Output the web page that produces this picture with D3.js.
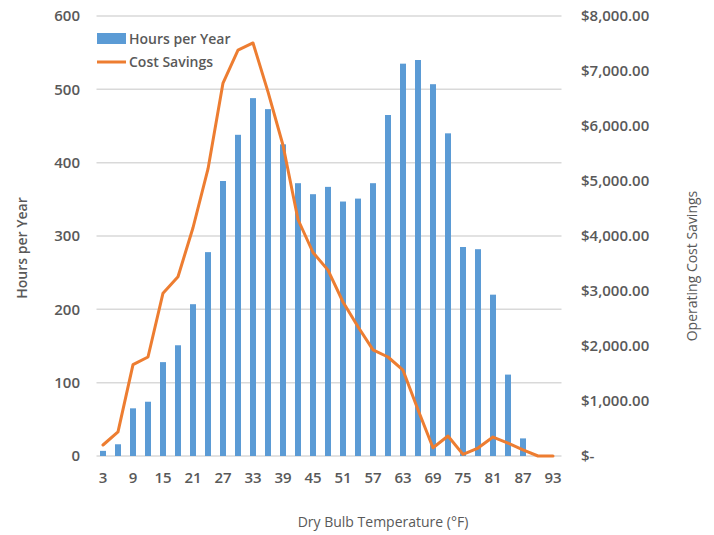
<!DOCTYPE html>
<html>
<head>
<meta charset="utf-8">
<script src="https://cdn.jsdelivr.net/npm/d3@7"></script>
<style>
  body { margin: 0; background: #fff; }
  text { font-family: 'Open Sans', sans-serif; fill: #595959; }
</style>
</head>
<body>
<div id="chart"></div>
<script>
// temperature bins (°F)
const temps = [3, 6, 9, 12, 15, 18, 21, 24, 27, 30, 33, 36, 39, 42, 45, 48, 51, 54, 57, 60,
  63, 66, 69, 72, 75, 78, 81, 84, 87, 90, 93]
const hoursPerYear = [7, 16, 65, 74, 128, 151, 207, 278, 375, 438, 488, 473, 425, 372, 357, 367,
  347, 351, 372, 465, 535, 540, 507, 440, 285, 282, 220, 111, 24, 0, 0]
const costSavings = [200, 440, 1660, 1800, 2960, 3260, 4150, 5220, 6780, 7380, 7510, 6620, 5650,
  4300, 3700, 3380, 2800, 2350, 1930, 1800, 1560, 840, 150, 364, 30, 145, 345, 236, 110, 0, 0]
const leftTicks = [0, 100, 200, 300, 400, 500, 600]
const rightTicks = [0, 1000, 2000, 3000, 4000, 5000, 6000, 7000, 8000]

const width = 714
const height = 535
const plotLeft = 95.5
const plotRight = 560.5
const plotTop = 16
const plotBottom = 456

const blue = '#5B9BD5'
const orange = '#ED7D31'

// scales
const scaleX = d3.scaleBand()
  .domain(temps)
  .range([plotLeft, plotRight])
  .paddingInner(0.6)
  .paddingOuter(0.3)

const scaleY = d3.scaleLinear()
  .domain([0, 600])
  .range([plotBottom, plotTop])

const scaleY2 = d3.scaleLinear()
  .domain([0, 8000])
  .range([plotBottom, plotTop])

const cx = d => scaleX(d) + scaleX.bandwidth() / 2

const $svg = d3.select('#chart').append('svg')
  .attr('width', width)
  .attr('height', height)

// gridlines
$svg.append('g')
  .selectAll('line')
  .data(leftTicks)
  .enter()
  .append('line')
  .attr('x1', plotLeft + 1)
  .attr('x2', plotRight + 1)
  .attr('y1', d => scaleY(d))
  .attr('y2', d => scaleY(d))
  .style('stroke', '#d9d9d9')
  .style('stroke-width', 1.5)

// left axis
const axisLeft = $svg.append('g')
  .attr('transform', 'translate(80, 0)')
  .call(d3.axisLeft(scaleY).tickValues(leftTicks).tickSize(0).tickPadding(0))
axisLeft.select('.domain').remove()
axisLeft.selectAll('text')
  .style('font-size', '15px')
  .style('font-weight', 600)
  .style('fill', '#595959')

// right axis
const fmtMoney = d => d === 0 ? '$-' : '$' + d3.format(',.2f')(d)
const axisRight = $svg.append('g')
  .attr('transform', 'translate(581, 0)')
  .call(d3.axisRight(scaleY2).tickValues(rightTicks).tickFormat(fmtMoney).tickSize(0).tickPadding(0))
axisRight.select('.domain').remove()
axisRight.selectAll('text')
  .style('font-size', '15px')
  .style('font-weight', 600)
  .style('fill', '#595959')

// bottom axis, every other label
const axisBottom = $svg.append('g')
  .attr('transform', `translate(0, ${plotBottom + 16})`)
  .call(d3.axisBottom(scaleX).tickValues(temps.filter((d, i) => i % 2 === 0)).tickSize(0).tickPadding(0))
axisBottom.select('.domain').remove()
axisBottom.selectAll('text')
  .style('font-size', '15px')
  .style('font-weight', 600)
  .style('fill', '#595959')

// bars
$svg.append('g')
  .selectAll('.bar')
  .data(temps)
  .enter()
  .append('rect')
  .attr('class', 'bar')
  .attr('x', d => scaleX(d))
  .attr('width', scaleX.bandwidth())
  .attr('y', (d, i) => scaleY(hoursPerYear[i]))
  .attr('height', (d, i) => plotBottom - scaleY(hoursPerYear[i]))
  .style('fill', blue)

// cost savings line
const line = d3.line()
  .x(d => cx(d[0]))
  .y(d => scaleY2(d[1]))

$svg.append('path')
  .datum(d3.zip(temps, costSavings))
  .attr('d', line)
  .style('fill', 'none')
  .style('stroke', orange)
  .style('stroke-width', 3)
  .style('stroke-linejoin', 'round')
  .style('stroke-linecap', 'round')

// legend
const $legend = $svg.append('g')
$legend.append('rect')
  .attr('x', 97)
  .attr('y', 33)
  .attr('width', 29)
  .attr('height', 11)
  .style('fill', blue)
$legend.append('text')
  .attr('x', 129)
  .attr('y', 44)
  .text('Hours per Year')
  .style('font-size', '14px')
  .style('font-weight', 600)
$legend.append('line')
  .attr('x1', 97)
  .attr('x2', 126)
  .attr('y1', 62)
  .attr('y2', 62)
  .style('stroke', orange)
  .style('stroke-width', 3)
$legend.append('text')
  .attr('x', 129)
  .attr('y', 67)
  .text('Cost Savings')
  .style('font-size', '14px')
  .style('font-weight', 600)

// axis titles
$svg.append('text')
  .attr('transform', 'translate(27, 248) rotate(-90)')
  .attr('text-anchor', 'middle')
  .text('Hours per Year')
  .style('font-size', '14px')
  .style('font-weight', 600)

$svg.append('text')
  .attr('transform', 'translate(697, 266) rotate(-90)')
  .attr('text-anchor', 'middle')
  .text('Operating Cost Savings')
  .style('font-size', '14px')
  .style('font-weight', 500)

$svg.append('text')
  .attr('x', 383)
  .attr('y', 527)
  .attr('text-anchor', 'middle')
  .text('Dry Bulb Temperature (°F)')
  .style('font-size', '14px')
  .style('font-weight', 500)
</script>
</body>
</html>
